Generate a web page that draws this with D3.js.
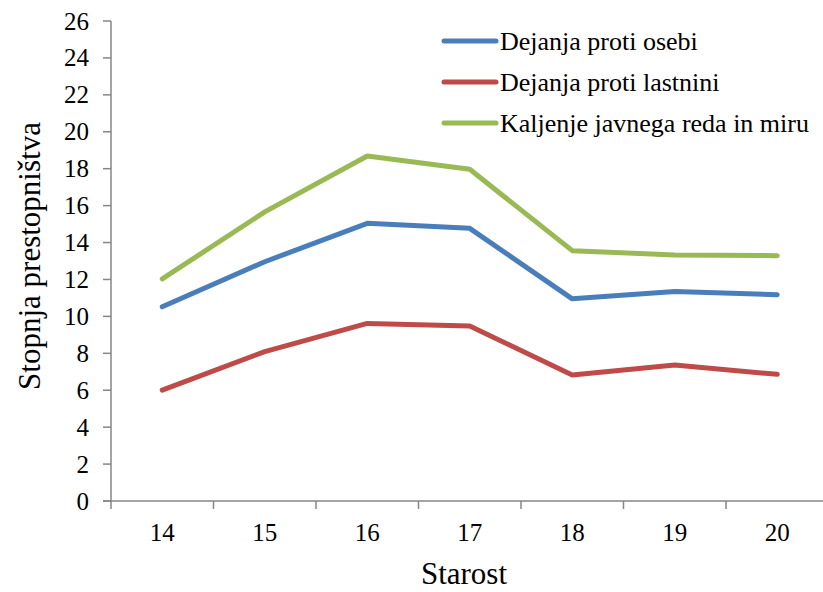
<!DOCTYPE html>
<html>
<head>
<meta charset="utf-8">
<script src="https://cdn.jsdelivr.net/npm/d3@7"></script>
</head>
<body style="margin:0">
<svg id="plot" width="823" height="592"></svg>
<script>
const ages = ["14", "15", "16", "17", "18", "19", "20"];
const seriesNames = ["Dejanja proti osebi", "Dejanja proti lastnini", "Kaljenje javnega reda in miru"];
const osebi = [10.52, 12.96, 15.04, 14.77, 10.95, 11.35, 11.17];
const lastnini = [6.01, 8.09, 9.62, 9.48, 6.83, 7.37, 6.86];
const red = [12.03, 15.66, 18.69, 17.97, 13.56, 13.33, 13.29];
const yTicks = d3.range(0, 27, 2);
const seriesColors = ["#4a7ebb", "#be4b48", "#98b954"];

const series = [osebi, lastnini, red].map((vals, i) => ({
    name: seriesNames[i],
    color: seriesColors[i],
    values: vals.map((v, j) => ({age: ages[j], value: v}))
}));

const axisColor = "#868686";
const font = "'Liberation Serif', 'Times New Roman', serif";

const svg = d3.select("#plot");

const x = d3.scaleBand().domain(ages).range([111, 828.5]);
const y = d3.scaleLinear().domain([0, 26]).range([501, 21]);

function serif(sel, size) {
    return sel.style("font-family", font, "important")
        .style("font-size", size + "px");
}

// y axis
const yAxis = svg.append("g");
yAxis.append("line")
    .attr("x1", 111).attr("x2", 111)
    .attr("y1", y(0)).attr("y2", y(26))
    .attr("stroke", axisColor).attr("stroke-width", 1.5);
yAxis.selectAll(".ytick")
    .data(yTicks)
    .enter().append("line")
    .attr("class", "ytick")
    .attr("x1", 103).attr("x2", 111)
    .attr("y1", d => y(d)).attr("y2", d => y(d))
    .attr("stroke", axisColor).attr("stroke-width", 1.5);
serif(yAxis.selectAll(".ylbl")
    .data(yTicks)
    .enter().append("text")
    .attr("class", "ylbl")
    .attr("x", 89)
    .attr("y", d => y(d))
    .attr("dy", "0.34em")
    .attr("text-anchor", "end")
    .text(d => d), 25);

// x axis, ticks sit on the band edges
const xAxisG = svg.append("g");
xAxisG.append("line")
    .attr("x1", 103).attr("x2", 828.5)
    .attr("y1", y(0)).attr("y2", y(0))
    .attr("stroke", axisColor).attr("stroke-width", 1.5);
xAxisG.selectAll(".edge")
    .data(ages)
    .enter().append("line")
    .attr("class", "edge")
    .attr("x1", d => x(d)).attr("x2", d => x(d))
    .attr("y1", y(0)).attr("y2", y(0) + 8)
    .attr("stroke", axisColor).attr("stroke-width", 1.5);
serif(xAxisG.selectAll(".xlbl")
    .data(ages)
    .enter().append("text")
    .attr("class", "xlbl")
    .attr("x", d => x(d) + x.bandwidth() / 2)
    .attr("y", y(0) + 40)
    .attr("text-anchor", "middle")
    .text(d => d), 25);

// lines
const line = d3.line()
    .x(d => x(d.age) + x.bandwidth() / 2)
    .y(d => y(d.value));

svg.selectAll(".series")
    .data(series)
    .enter().append("path")
    .attr("class", "series")
    .attr("d", d => line(d.values))
    .attr("fill", "none")
    .attr("stroke", d => d.color)
    .attr("stroke-width", 5)
    .attr("stroke-linecap", "round")
    .attr("stroke-linejoin", "round");

// axis titles
serif(svg.append("text")
    .attr("x", 464)
    .attr("y", 584)
    .attr("text-anchor", "middle")
    .text("Starost"), 31);

serif(svg.append("text")
    .attr("transform", "translate(40,256) rotate(-90)")
    .attr("text-anchor", "middle")
    .text("Stopnja prestopništva"), 31);

// legend
const items = svg.append("g").selectAll("g")
    .data(series)
    .enter().append("g")
    .attr("transform", (d, i) => `translate(0,${41 + i * 41})`);
items.append("line")
    .attr("x1", 444).attr("x2", 496)
    .attr("stroke", d => d.color)
    .attr("stroke-width", 5)
    .attr("stroke-linecap", "round");
serif(items.append("text")
    .attr("x", 500)
    .attr("dy", "0.35em")
    .text(d => d.name), 26);
</script>
</body>
</html>
